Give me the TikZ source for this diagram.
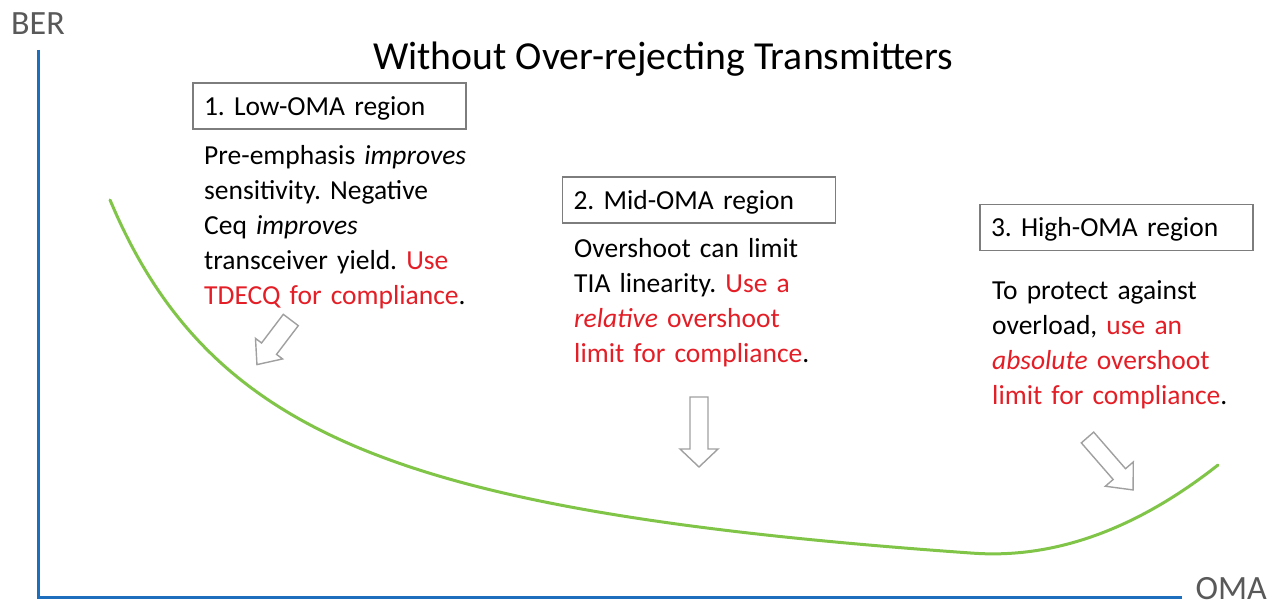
\documentclass[tikz,border=0pt]{standalone}
\usepackage{fontspec}
\setmainfont{Carlito}
\frenchspacing
\definecolor{axisblue}{RGB}{30,110,190}
\definecolor{curvegreen}{RGB}{128,196,72}
\definecolor{labelgray}{RGB}{89,89,89}
\definecolor{boxgray}{RGB}{125,125,125}
\definecolor{arrgray}{RGB}{160,160,160}
\definecolor{hlred}{RGB}{228,30,38}
\newcommand{\holarrow}[6]{%
  \draw[hollowarrow, shift={(#1)}, rotate=#2]
    (0,-#4) -- ({#3-#6},-#4) -- ({#3-#6},-#5) -- (#3,0) -- ({#3-#6},#5) -- ({#3-#6},#4) -- (0,#4) -- cycle;}
\newcommand{\rd}[1]{\textcolor{hlred}{#1}}
\begin{document}
\begin{tikzpicture}[x=1pt,y=1pt,
  axisline/.style={draw=axisblue, line width=3pt, line join=miter},
  curveline/.style={draw=curvegreen, line width=3pt, line cap=round},
  hollowarrow/.style={draw=arrgray, fill=white, line width=1.4pt, line join=miter},
  regionbox/.style={draw=boxgray, line width=1.3pt, minimum width=273pt, minimum height=46pt,
    text width=251pt, inner xsep=11pt, inner ysep=0pt, align=left,
    text height=25pt, text depth=6pt, font=\fontsize{27.5}{34.5}\selectfont},
  bodytext/.style={anchor=base west, inner sep=0pt, align=left, text width=300pt,
    font=\fontsize{27.5}{35}\selectfont},
  axislabel/.style={inner sep=0pt, text=labelgray, font=\fontsize{34}{40}\selectfont}]
\useasboundingbox[fill=white] (0,0) rectangle (1273,607);
% axes
\coordinate (ytop) at (38,557);
\coordinate (origin) at (38,9);
\coordinate (xend) at (1182,9);
\draw[axisline] (ytop) -- (origin) -- (xend);
\node[axislabel, anchor=base west] (ber) at (11,572) {BER};
\node[axislabel, anchor=base east] (oma) at (1267,7) {OMA};
% title
\node[anchor=base west, inner sep=0pt, font=\fontsize{39.7}{45}\selectfont] (title) at (373,537) {Without Over-rejecting Transmitters};
% curve
\draw[curveline] plot[domain=110:1218, samples=150, smooth]
  (\x, {765.4/((\x+69.4)/100) - 19.6 + 102.15*(max(\x-973,0)/245)^2});
% region boxes
\node[regionbox] (box1) at (329.5,501) {1. Low-OMA region};
\node[regionbox] (box2) at (699,407) {2. Mid-OMA region};
\node[regionbox] (box3) at (1116.5,379.5) {3. High-OMA region};
% body texts
\node[bodytext] (txt1) at (204,442) {Pre-emphasis \textit{improves}\\ sensitivity. Negative\\ Ceq \textit{improves}\\ transceiver yield. \rd{Use}\\ \rd{TDECQ for compliance}.};
\node[bodytext] (txt2) at (574,349) {Overshoot can limit\\ TIA linearity. \rd{Use a}\\ \rd{\textit{relative} overshoot}\\ \rd{limit for compliance}.};
\node[bodytext] (txt3) at (992,307) {To protect against\\ overload, \rd{use an}\\ \rd{\textit{absolute} overshoot}\\ \rd{limit for compliance}.};
% hollow arrows
\holarrow{290.8,287}{232.8}{56}{9.4}{17}{20}
\holarrow{699,210}{-90}{70}{9}{19}{18}
\holarrow{1087.5,169.5}{-49}{69.5}{8.2}{18.5}{21}
\end{tikzpicture}
\end{document}
